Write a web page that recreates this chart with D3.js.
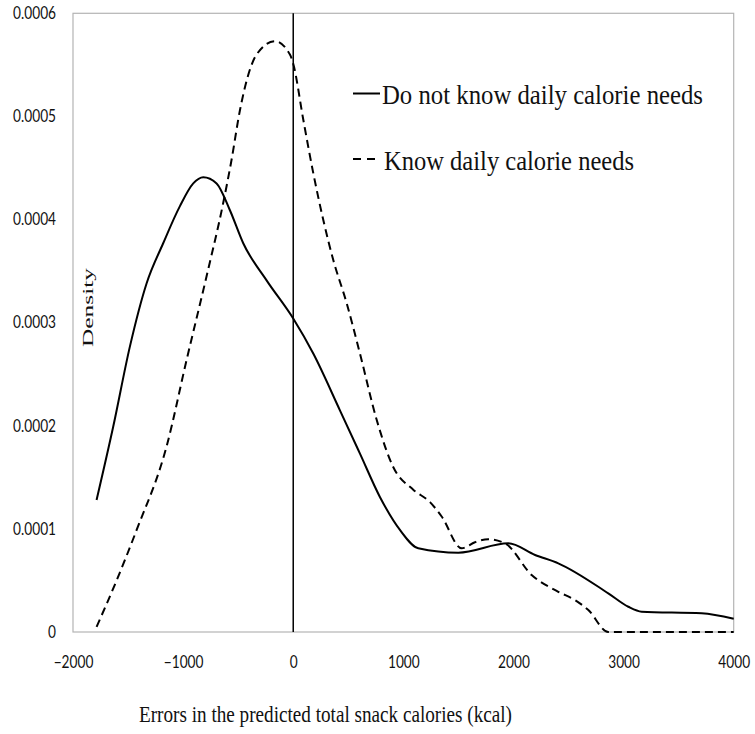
<!DOCTYPE html>
<html>
<head>
<meta charset="utf-8">
<script src="https://cdn.jsdelivr.net/npm/d3@7"></script>
<style>
  body { margin: 0; background: #fff; }
  .tick text { font-family: Lato, "Open Sans", sans-serif; font-size: 16.5px; fill: #111;
    transform-box: fill-box; }
  .y .tick text { transform-origin: right center; transform: scaleX(0.83); }
  .x .tick text { transform-origin: center; transform: scaleX(0.83); }
  .serif { font-family: "Liberation Serif", "Times New Roman", serif; fill: #111; }
</style>
</head>
<body>
<div id="chart"></div>
<script>
// errors in predicted snack calories (kcal) -> density
var notKnowX = [-1786, -1635, -1483, -1332, -1181, -1029, -908, -817, -696, -575, -454, -242, 0, 182, 424, 606, 787, 969, 1135, 1499, 1953, 2196, 2407, 2861, 3043, 3164, 3709, 4000];
var notKnowY = [0.000128, 0.000199, 0.000277, 0.000338, 0.000377, 0.000413, 0.000435, 0.000441, 0.000435, 0.000409, 0.000377, 0.000341, 0.000304, 0.000270, 0.000215, 0.000173, 0.000131, 0.0000990, 0.0000812, 0.0000769, 0.0000860, 0.0000747, 0.0000666, 0.0000375, 0.0000245, 0.0000197, 0.0000181, 0.0000129];

var knowX = [-1786, -1604, -1422, -1150, -968, -787, -636, -560, -484, -333, -166, -30, 0, 91, 182, 272, 363, 485, 606, 757, 908, 1090, 1242, 1348, 1529, 1650, 1771, 1923, 2165, 2407, 2559, 2680, 2861, 3000, 4000];
var knowY = [0.000005, 0.0000500, 0.0000990, 0.000180, 0.000264, 0.000345, 0.000416, 0.000458, 0.000506, 0.000560, 0.000573, 0.000560, 0.000551, 0.000497, 0.000445, 0.000400, 0.000361, 0.000319, 0.000270, 0.000206, 0.000160, 0.000138, 0.000126, 0.000112, 0.0000812, 0.0000870, 0.0000900, 0.0000860, 0.0000553, 0.0000390, 0.0000310, 0.0000213, 0, 0, 0];

var xTicks = [-2000, -1000, 0, 1000, 2000, 3000, 4000];
var yTicks = [0, 0.0001, 0.0002, 0.0003, 0.0004, 0.0005, 0.0006];
var legendLabels = ["Do not know daily calorie needs", "Know daily calorie needs"];

var W = 755, H = 734;
var margin = {top: 13.3, right: 21.3, bottom: 102, left: 73};
var width = W - margin.left - margin.right;
var height = H - margin.top - margin.bottom;

var svg = d3.select("#chart").append("svg")
    .attr("width", W)
    .attr("height", H);

var g = svg.append("g")
    .attr("transform", "translate(" + margin.left + "," + margin.top + ")");

var x = d3.scaleLinear().domain([-2000, 4000]).range([0, width]);
var y = d3.scaleLinear().domain([0, 0.0006]).range([height, 0]);

// axes, no tick marks
var xAxis = d3.axisBottom(x).tickValues(xTicks).tickSize(0).tickPadding(24)
    .tickFormat(d3.format("d"));
var yAxis = d3.axisLeft(y).tickValues(yTicks).tickSize(0).tickPadding(17)
    .tickFormat(function(d){ return d === 0 ? "0" : d3.format(".4f")(d); });

g.append("g").attr("class", "x axis")
    .attr("transform", "translate(0," + height + ")")
    .call(xAxis)
    .call(function(s){ s.select(".domain").remove(); });

g.append("g").attr("class", "y axis")
    .call(yAxis)
    .call(function(s){ s.select(".domain").remove(); });

// plot border
g.append("rect")
    .attr("x", 0).attr("y", 0)
    .attr("width", width).attr("height", height)
    .attr("fill", "none")
    .attr("stroke", "#b4b4b4")
    .attr("stroke-width", 1.2);

// vertical line at zero
g.append("line")
    .attr("x1", x(0)).attr("x2", x(0))
    .attr("y1", 0).attr("y2", height)
    .attr("stroke", "#000")
    .attr("stroke-width", 1.5);

var line = d3.line()
    .x(function(d){ return x(d[0]); })
    .y(function(d){ return y(d[1]); })
    .curve(d3.curveMonotoneX);

var notKnow = notKnowX.map(function(v, i){ return [v, notKnowY[i]]; });
var know = knowX.map(function(v, i){ return [v, knowY[i]]; });

g.append("path")
    .attr("d", line(know))
    .attr("fill", "none")
    .attr("stroke", "#000")
    .attr("stroke-width", 2)
    .attr("stroke-dasharray", "8,5");

g.append("path")
    .attr("d", line(notKnow))
    .attr("fill", "none")
    .attr("stroke", "#000")
    .attr("stroke-width", 2);

// legend
svg.append("line")
    .attr("x1", 353).attr("x2", 380)
    .attr("y1", 93.5).attr("y2", 93.5)
    .attr("stroke", "#000").attr("stroke-width", 2);
svg.append("text")
    .attr("class", "serif")
    .attr("x", 382).attr("y", 104)
    .attr("font-size", 28)
    .attr("textLength", 321).attr("lengthAdjust", "spacingAndGlyphs")
    .text(legendLabels[0]);

svg.append("line")
    .attr("x1", 353).attr("x2", 376)
    .attr("y1", 159).attr("y2", 159)
    .attr("stroke", "#000").attr("stroke-width", 2)
    .attr("stroke-dasharray", "8,6");
svg.append("text")
    .attr("class", "serif")
    .attr("x", 384).attr("y", 170)
    .attr("font-size", 28)
    .attr("textLength", 250).attr("lengthAdjust", "spacingAndGlyphs")
    .text(legendLabels[1]);

// axis titles
svg.append("text")
    .attr("class", "serif")
    .attr("x", 139).attr("y", 722)
    .attr("font-size", 24)
    .attr("textLength", 373).attr("lengthAdjust", "spacingAndGlyphs")
    .text("Errors in the predicted total snack calories (kcal)");

svg.append("text")
    .attr("class", "serif")
    .attr("transform", "translate(93,347) rotate(-90)")
    .attr("font-size", 15)
    .attr("textLength", 79).attr("lengthAdjust", "spacingAndGlyphs")
    .text("Density");
</script>
</body>
</html>
